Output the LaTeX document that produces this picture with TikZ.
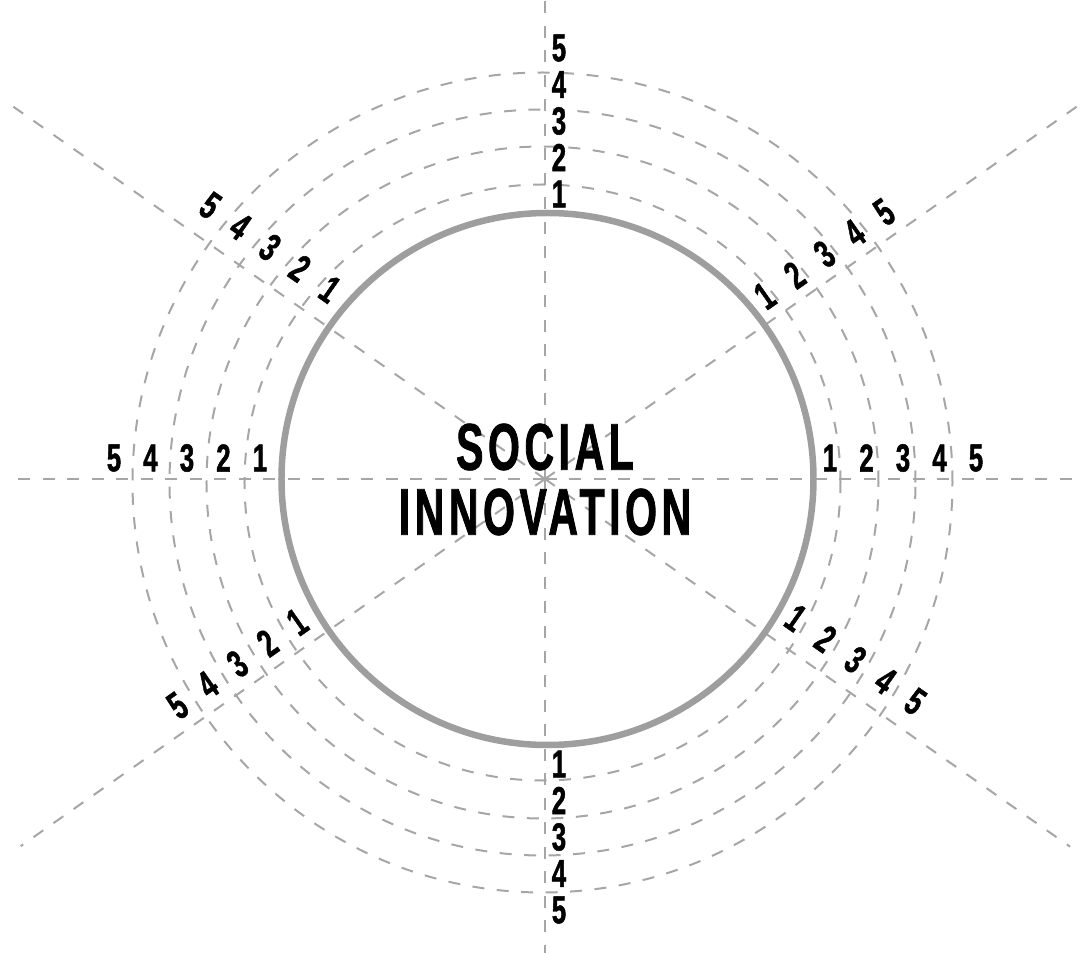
\documentclass[tikz,border=0pt]{standalone}
\usepackage{fontspec}
\usetikzlibrary{calc}
\newfontfamily\numfont{Liberation Sans}[FakeStretch=0.66,FakeBold=1.2]
\newfontfamily\titlefont{Liberation Sans}[FakeStretch=0.62,FakeBold=1.2,LetterSpace=7]

\begin{document}
\begin{tikzpicture}[x=1pt,y=1pt]
  \tikzset{ray/.style={draw=gray!70,line width=2pt,dash pattern=on 12pt off 12.5pt},
           ring/.style={draw=gray!70,line width=2pt,dash pattern=on 12pt off 12.5pt},
           rim/.style={draw=gray!76,line width=6.5pt},
           numlabel/.style={font=\numfont\bfseries\fontsize{39pt}{39pt}\selectfont,inner sep=0pt},
           titletext/.style={font=\titlefont\bfseries\fontsize{66pt}{65pt}\selectfont,align=center,inner sep=0pt}}
  \useasboundingbox (-545,-474) rectangle (537,479);

  \coordinate (O) at (0,0);
  \coordinate (ringC) at (-2.5,-3.5);
  \coordinate (rimC) at (2.5,0);

  % spokes
  \foreach \ang/\len in {0/532,35/650,90/479,145/649,180/530,215/640,270/474,325/641}{
    \coordinate (end\ang) at (\ang:\len);
    \draw[ray] (O) -- (end\ang);
  }
  % levels
  \foreach \r in {298,336,373,410}
    \draw[ring] (ringC) circle[radius=\r pt];

  \draw[rim] (rimC) circle[radius=266pt];

  % scale numbers along each spoke
  \foreach \ang/\off/\rot in {0/21/0,35/24/35,90/-14/0,145/-32/-35,180/-21/0,215/-25/35,270/14/0,325/30/-35}
    \foreach \k in {1,...,5}
      \node[numlabel,rotate=\rot] (n\ang-\k) at ($(\ang:{285+36.5*(\k-1)})+(\ang+90:\off)$) {\k};

  \node[titletext] (title) at (0,-0.5) {SOCIAL\\INNOVATION};
\end{tikzpicture}
\end{document}
